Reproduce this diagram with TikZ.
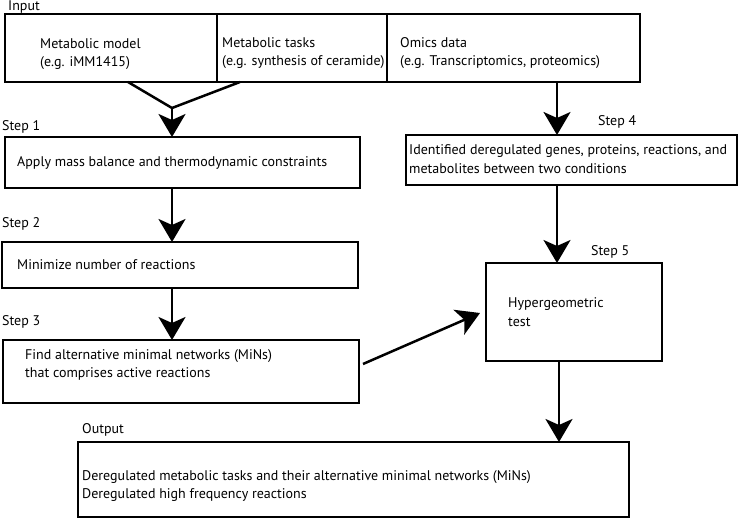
\documentclass[tikz,border=0pt]{standalone}
\usepackage{fontspec}
\setmainfont{PT Sans}
\usetikzlibrary{arrows.meta}
\tikzset{
  box/.style={draw, line width=1.1pt, anchor=north west, inner sep=0pt, outer sep=0pt},
  txt/.style={anchor=west, inner sep=0pt, align=left, font=\fontsize{14}{18.5}\selectfont},
  flow/.style={line width=2.5pt, -{Stealth[length=23pt, width=27pt, inset=6pt]}},
  plain/.style={line width=2.5pt}
}
\begin{document}
\begin{tikzpicture}[x=1pt, y=-1pt]
\useasboundingbox (0,0) rectangle (740,519);
% Input
\node[txt] (lin) at (8,7) {Input};
\node[box, minimum width=212pt, minimum height=68pt] (in1) at (5,14) {};
\node[box, minimum width=170pt, minimum height=68pt] (in2) at (217,14) {};
\node[box, minimum width=253pt, minimum height=68pt] (in3) at (387,14) {};
\node[txt] (t1) at (40,54) {Metabolic model\\(e.g. iMM1415)};
\node[txt] (t2) at (222,53) {Metabolic tasks\\(e.g. synthesis of ceramide)};
\node[txt] (t3) at (400,53) {Omics data\\(e.g. Transcriptomics, proteomics)};
% Steps left
\node[txt] (l1) at (2,127) {Step 1};
\node[box, minimum width=355pt, minimum height=51pt] (s1) at (5,137) {};
\node[txt] (s1t) at (17,163) {Apply mass balance and thermodynamic constraints};
\node[txt] (l2) at (2,224) {Step 2};
\node[box, minimum width=356pt, minimum height=46pt] (s2) at (2,242) {};
\node[txt] (s2t) at (17,265) {Minimize number of reactions};
\node[txt] (l3) at (2,322) {Step 3};
\node[box, minimum width=356pt, minimum height=63pt] (s3) at (3,340) {};
\node[txt] (s3t) at (25,365) {Find alternative minimal networks (MiNs)\\that comprises active reactions};
% Right
\node[txt] (l4) at (598,122) {Step 4};
\node[box, minimum width=331pt, minimum height=50pt] (s4) at (406,135) {};
\node[txt] (s4t) at (409,159) {Identified deregulated genes, proteins, reactions, and\\metabolites between two conditions};
\node[txt] (l5) at (591,252) {Step 5};
\node[box, minimum width=176pt, minimum height=98pt] (s5) at (486,263) {};
\node[txt] (s5t) at (508,312) {Hypergeometric\\test};
% Output
\node[txt] (lout) at (82,430) {Output};
\node[box, minimum width=551pt, minimum height=75pt] (out) at (78,442) {};
\node[txt] (outt) at (82,486) {Deregulated metabolic tasks and their alternative minimal networks (MiNs)\\Deregulated high frequency reactions};
% Connectors
\coordinate (j) at (172,108);
\draw[plain] (in1.south west -| 128,0) -- (j);
\draw[plain] (in2.south west -| 240,0) -- (j);
\draw[flow] (j) -- (s1.north west -| j);
\draw[flow] (s1.south west -| 172,0) -- (s2.north west -| 172,0);
\draw[flow] (s2.south west -| 172,0) -- (s3.north west -| 172,0);
\draw[flow] (in3.south west -| 557,0) -- (s4.north west -| 557,0);
\draw[flow] (s4.south west -| 557,0) -- (s5.north west -| 557,0);
\draw[flow] (s3.east |- 0,364) ++(4,0) -- ([xshift=-6pt]s5.west |- 0,313);
\draw[flow] (s5.south west -| 559,0) -- (out.north west -| 559,0);
\end{tikzpicture}
\end{document}
